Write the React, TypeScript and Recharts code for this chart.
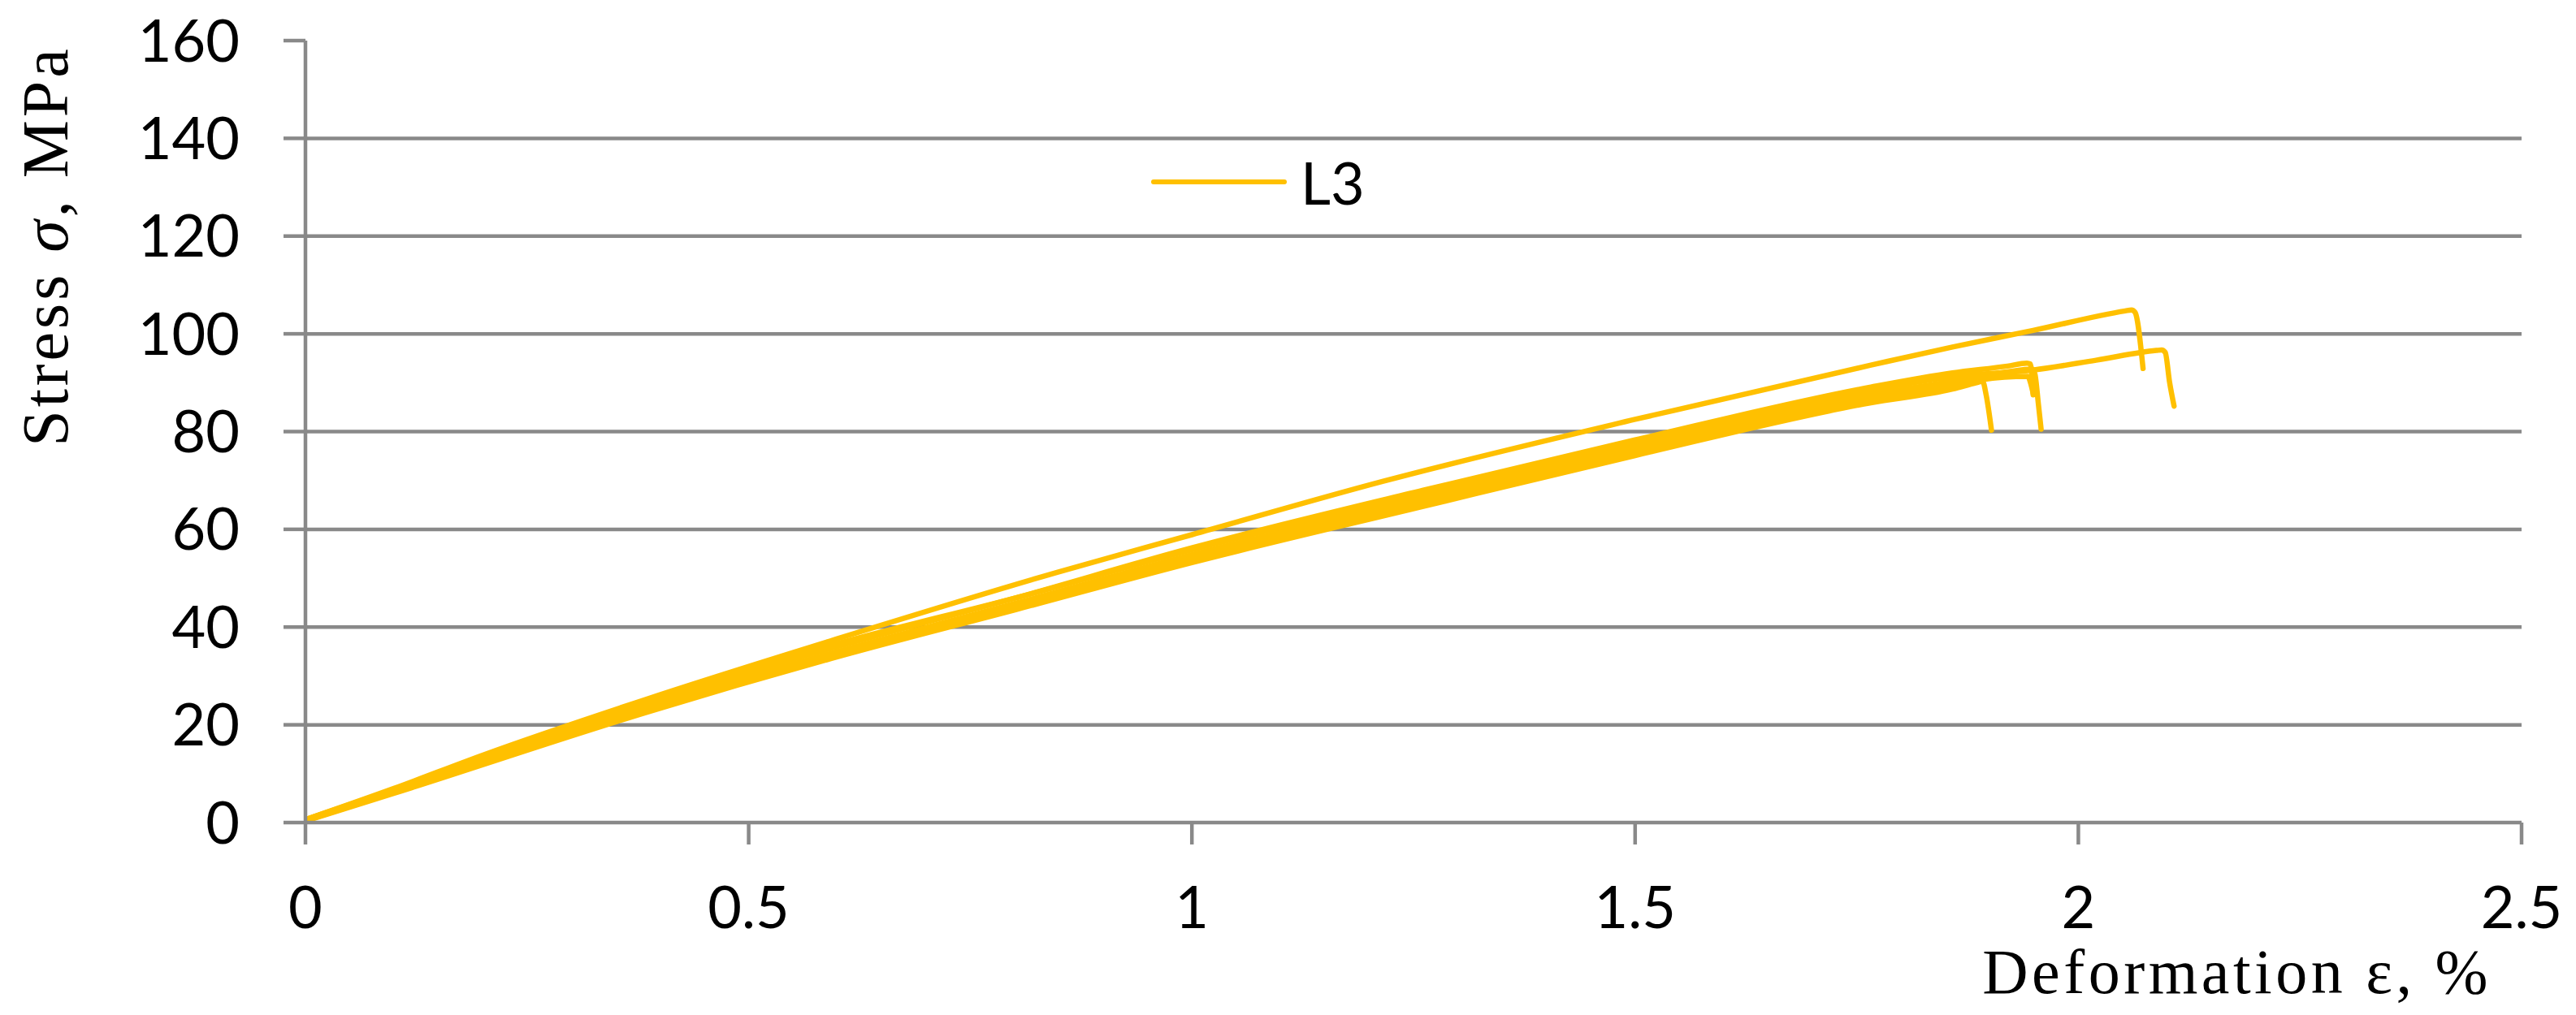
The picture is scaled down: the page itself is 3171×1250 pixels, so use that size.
import React from "react"
import { LineChart, Line, XAxis, YAxis, ReferenceLine, Legend, Label } from "recharts"

// strain (%) / stress (MPa), one pair of arrays per specimen
const epsA = [0, 0.1, 0.2, 0.389, 0.6, 0.848, 1.0, 1.215, 1.5, 1.766, 1.858, 1.949, 2.053, 2.06, 2.064, 2.073]
const sigA = [0.6, 7.0, 13.8, 25.5, 37.6, 51.2, 58.9, 69.8, 82.5, 93.6, 97.3, 100.7, 104.7, 104.9, 104.4, 92.9]

const epsB = [0, 0.1, 0.389, 0.6, 0.802, 1.0, 1.261, 1.5, 1.766, 1.858, 1.949, 2.02, 2.088, 2.094, 2.098, 2.103, 2.108]
const sigB = [0.6, 6.8, 25.0, 36.6, 46.0, 55.8, 67.3, 77.6, 88.4, 91.2, 92.6, 94.6, 96.6, 96.7, 96.2, 90.0, 85.2]

const epsD = [0, 0.1, 0.389, 0.6, 0.802, 1.0, 1.261, 1.5, 1.766, 1.858, 1.92, 1.942, 1.946, 1.949]
const sigD = [0.6, 6.6, 24.8, 36.0, 46.0, 56.2, 68.0, 78.3, 89.1, 92.0, 93.4, 94.0, 93.8, 87.5]

const epsE = [0, 0.1, 0.389, 0.6, 0.802, 1.0, 1.261, 1.5, 1.766, 1.858, 1.92, 1.948, 1.951, 1.955, 1.958]
const sigE = [0.45, 6.3, 23.9, 35.0, 44.9, 54.8, 66.4, 76.7, 87.5, 90.3, 92.2, 92.8, 91.8, 85.5, 80.5]

const epsF = [0, 0.1, 0.389, 0.6, 0.802, 1.0, 1.261, 1.5, 1.766, 1.858, 1.89, 1.943, 1.946, 1.949]
const sigF = [0.4, 6.15, 23.3, 34.4, 44.2, 54.0, 65.6, 75.9, 86.7, 89.5, 90.6, 91.3, 90.0, 87.8]

const epsC = [0, 0.1, 0.389, 0.6, 0.802, 1.0, 1.261, 1.5, 1.766, 1.858, 1.885, 1.892, 1.896, 1.902]
const sigC = [0.3, 6.0, 22.8, 33.9, 43.6, 53.2, 64.7, 75.1, 85.9, 88.7, 90.0, 90.3, 87.5, 80.3]

const xTicks = [0, 0.5, 1, 1.5, 2, 2.5]
const yTicks = [0, 20, 40, 60, 80, 100, 120, 140, 160]
const gridValues = [20, 40, 60, 80, 100, 120, 140]

const seriesName = "L3"
const xTitle = "Deformation ε, %"

const zip = (xs: number[], ys: number[]) => xs.map((x, i) => ({ x, y: ys[i] }))

const curves = [
  zip(epsC, sigC),
  zip(epsF, sigF),
  zip(epsE, sigE),
  zip(epsD, sigD),
  zip(epsB, sigB),
  zip(epsA, sigA),
]

const YELLOW = "#FFC000"
const GRID = "#898989"
const tickFont = { fill: "#000", fontSize: 72, fontFamily: "Lato" }

const renderLegend = () => (
  <div style={{ display: "flex", alignItems: "center", fontFamily: "Lato", fontSize: 72, color: "#000" }}>
    <svg width={167} height={12}>
      <line x1={3} y1={6} x2={164} y2={6} stroke={YELLOW} strokeWidth={6} strokeLinecap="round" />
    </svg>
    <span style={{ marginLeft: 17, lineHeight: 1 }}>{seriesName}</span>
  </div>
)

export default function App() {
  return (
    <div style={{ position: "absolute", left: 0, top: 0, background: "#fff" }}>
      <LineChart width={3171} height={1250} margin={{ top: 50, right: 67, bottom: 137, left: 176 }}>
        {gridValues.map((v) => (
          <ReferenceLine key={v} y={v} stroke={GRID} strokeWidth={4.5} />
        ))}
        <XAxis
          type="number"
          dataKey="x"
          domain={[0, 2.5]}
          ticks={xTicks}
          interval={0}
          height={100}
          tickSize={27}
          tickMargin={52}
          axisLine={{ stroke: GRID, strokeWidth: 4.5 }}
          tickLine={{ stroke: GRID, strokeWidth: 4.5 }}
          tick={tickFont}
          allowDataOverflow
        >
          <Label
            content={({ viewBox }: any) => (
              <text
                x={viewBox.x + viewBox.width - 37}
                y={viewBox.y + 210}
                textAnchor="end"
                fontFamily="Liberation Serif"
                fontSize={78}
                letterSpacing={4.5}
                fill="#000"
              >
                {xTitle}
              </text>
            )}
          />
        </XAxis>
        <YAxis
          type="number"
          domain={[0, 160]}
          ticks={yTicks}
          interval={0}
          width={200}
          tickSize={27}
          tickMargin={54}
          axisLine={{ stroke: GRID, strokeWidth: 4.5 }}
          tickLine={{ stroke: GRID, strokeWidth: 4.5 }}
          tick={tickFont}
        >
          <Label
            content={() => (
              <text
                x={83}
                y={303}
                transform="rotate(-90 83 303)"
                textAnchor="middle"
                fontFamily="Liberation Serif"
                fontSize={80}
                letterSpacing={4}
                fill="#000"
              >
                Stress <tspan fontStyle="italic">σ</tspan>, MPa
              </text>
            )}
          />
        </YAxis>
        <Legend
          layout="horizontal"
          verticalAlign="middle"
          align="center"
          content={renderLegend}
          wrapperStyle={{ position: "absolute", left: 1417, top: 188, width: "auto", height: "auto" }}
        />
        {curves.map((d, i) => (
          <Line
            key={i}
            data={d}
            dataKey="y"
            type="monotone"
            stroke={YELLOW}
            strokeWidth={6.5}
            strokeLinejoin="round"
            strokeLinecap="round"
            dot={false}
            activeDot={false}
            legendType="none"
            isAnimationActive={false}
          />
        ))}
      </LineChart>
    </div>
  )
}
